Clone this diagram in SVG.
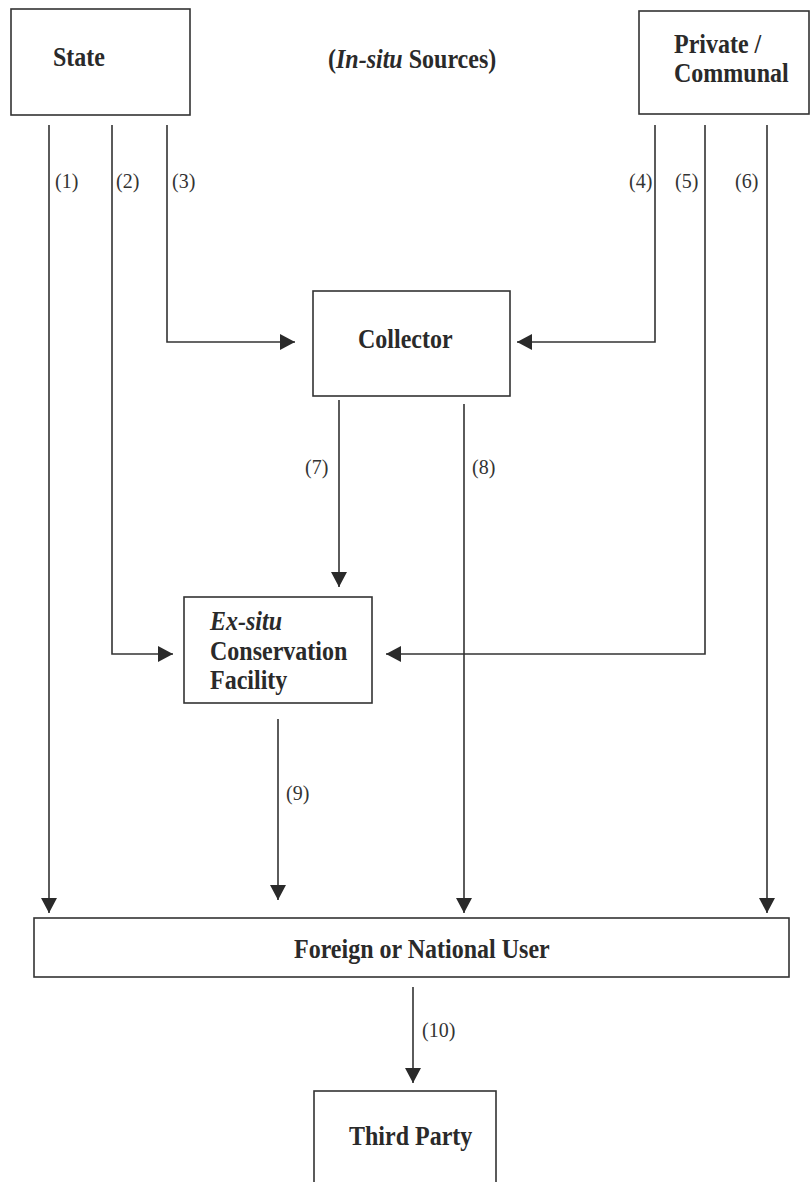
<svg xmlns="http://www.w3.org/2000/svg" width="811" height="1182" viewBox="0 0 811 1182">
<style>
.box{fill:#fff;stroke:#333;stroke-width:1.6}
.t{font-family:"Liberation Serif","Times New Roman",serif;font-weight:bold;font-size:24px;fill:#2a2a2a}
.lb{font-family:"Liberation Serif","Times New Roman",serif;font-size:20px;fill:#333}
.i{font-style:italic}
.c{fill:none;stroke:#333;stroke-width:1.6}
</style>
<defs>
<marker id="ah" markerUnits="userSpaceOnUse" markerWidth="15" markerHeight="16" refX="15" refY="8" orient="auto">
<path d="M0,0 L15,8 L0,16 z" fill="#2a2a2a"/>
</marker>
</defs>
<rect width="811" height="1182" fill="#fff"/>

<g id="title">
<text class="t" transform="translate(328,68) scale(1,1.15)">(<tspan class="i">In-situ</tspan> Sources)</text>
</g>

<g id="state">
<rect class="box" x="11" y="9" width="179" height="106"/>
<text class="t" transform="translate(53,66) scale(1,1.15)">State</text>
</g>

<g id="private">
<rect class="box" x="639" y="11" width="170" height="103"/>
<text class="t" transform="translate(674,53) scale(1,1.15)">Private /</text>
<text class="t" transform="translate(674,82) scale(1,1.15)">Communal</text>
</g>

<g id="collector">
<rect class="box" x="313" y="291" width="197" height="105"/>
<text class="t" transform="translate(358,348) scale(1,1.15)">Collector</text>
</g>

<g id="exsitu">
<rect class="box" x="184" y="597" width="188" height="106"/>
<text class="t i" transform="translate(210,630) scale(1,1.15)">Ex-situ</text>
<text class="t" transform="translate(210,660) scale(1,1.15)">Conservation</text>
<text class="t" transform="translate(210,689) scale(1,1.15)">Facility</text>
</g>

<g id="user">
<rect class="box" x="34" y="918" width="755" height="59"/>
<text class="t" transform="translate(294,958) scale(1,1.15)">Foreign or National User</text>
</g>

<g id="thirdparty">
<rect class="box" x="314" y="1091" width="182" height="110"/>
<text class="t" transform="translate(349,1145) scale(1,1.15)">Third Party</text>
</g>

<g id="connectors">
<path class="c" marker-end="url(#ah)" d="M49,125 V913"/>
<path class="c" marker-end="url(#ah)" d="M112,125 V654 H173"/>
<path class="c" marker-end="url(#ah)" d="M167,125 V342 H295"/>
<path class="c" marker-end="url(#ah)" d="M655,125 V342 H517"/>
<path class="c" marker-end="url(#ah)" d="M705,125 V654 H386"/>
<path class="c" marker-end="url(#ah)" d="M767,125 V913"/>
<path class="c" marker-end="url(#ah)" d="M339,400 V587"/>
<path class="c" marker-end="url(#ah)" d="M464,404 V913"/>
<path class="c" marker-end="url(#ah)" d="M278,719 V900"/>
<path class="c" marker-end="url(#ah)" d="M413,987 V1083"/>
<text class="lb" transform="translate(55,188) scale(1,1.1)">(1)</text>
<text class="lb" transform="translate(116,188) scale(1,1.1)">(2)</text>
<text class="lb" transform="translate(172,188) scale(1,1.1)">(3)</text>
<text class="lb" transform="translate(629,188) scale(1,1.1)">(4)</text>
<text class="lb" transform="translate(675,188) scale(1,1.1)">(5)</text>
<text class="lb" transform="translate(735,188) scale(1,1.1)">(6)</text>
<text class="lb" transform="translate(305,474) scale(1,1.1)">(7)</text>
<text class="lb" transform="translate(472,474) scale(1,1.1)">(8)</text>
<text class="lb" transform="translate(286,800) scale(1,1.1)">(9)</text>
<text class="lb" transform="translate(422,1037) scale(1,1.1)">(10)</text>
</g>
</svg>
